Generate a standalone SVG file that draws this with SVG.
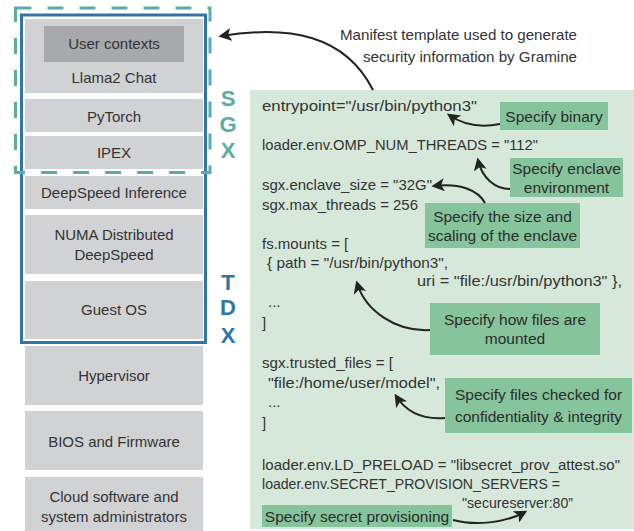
<svg xmlns="http://www.w3.org/2000/svg" width="634" height="531" viewBox="0 0 634 531">
<defs>
<style>
.box{fill:#d1d2d4}
.uc{fill:#a7a9ac}
.lbl{font-family:"Liberation Sans",Arial,sans-serif;font-size:15px;fill:#333;text-anchor:middle}
.code{font-family:"Liberation Sans",Arial,sans-serif;font-size:15px;fill:#333}
.note{fill:#86c49c}
.ntxt{font-family:"Liberation Sans",Arial,sans-serif;font-size:15.5px;fill:#2b2b2b;text-anchor:middle}
.big{font-family:"Liberation Sans",Arial,sans-serif;font-size:22px;font-weight:bold;text-anchor:middle}
.conn{fill:none;stroke:#222;stroke-width:2;marker-end:url(#ah)}
</style>
<marker id="ah" viewBox="0 0 10 10" refX="8" refY="5" markerWidth="6.5" markerHeight="6.5" orient="auto" markerUnits="strokeWidth">
<path d="M0,0 L10,5 L0,10 L2.5,5 Z" fill="#222"/>
</marker>
</defs>
<rect x="0" y="0" width="634" height="531" fill="#ffffff"/>

<g id="stack">
<g id="llama"><rect class="box" x="25" y="19" width="178" height="74"/>
<rect class="uc" x="44" y="26" width="140" height="36"/>
<text class="lbl" x="114" y="49">User contexts</text>
<text class="lbl" x="114" y="83">Llama2 Chat</text></g>
<g id="pytorch"><rect class="box" x="25" y="99" width="178" height="33"/><text class="lbl" x="114" y="122">PyTorch</text></g>
<g id="ipex"><rect class="box" x="25" y="136" width="178" height="33"/><text class="lbl" x="114" y="158">IPEX</text></g>
<g id="dsi"><rect class="box" x="25" y="176" width="178" height="33"/><text class="lbl" x="114" y="198">DeepSpeed Inference</text></g>
<g id="numa"><rect class="box" x="25" y="215" width="178" height="59"/><text class="lbl" x="114" y="240">NUMA Distributed</text><text class="lbl" x="114" y="260">DeepSpeed</text></g>
<g id="guest"><rect class="box" x="25" y="281" width="178" height="58"/><text class="lbl" x="114" y="315">Guest OS</text></g>
<g id="hyper"><rect class="box" x="25" y="346" width="178" height="59"/><text class="lbl" x="114" y="381">Hypervisor</text></g>
<g id="bios"><rect class="box" x="25" y="411" width="178" height="59"/><text class="lbl" x="114" y="447">BIOS and Firmware</text></g>
<g id="cloud"><rect class="box" x="25" y="477" width="178" height="54"/><text class="lbl" x="114" y="502">Cloud software and</text><text class="lbl" x="114" y="522">system administrators</text></g>
</g>

<g id="tdx">
<rect x="21.5" y="15" width="184" height="327.5" fill="none" stroke="#3274a6" stroke-width="3"/>
<text class="big" x="228" y="290" fill="#3274a6">T</text>
<text class="big" x="228" y="315" fill="#3274a6">D</text>
<text class="big" x="228" y="343" fill="#3274a6">X</text>
</g>
<g id="sgx">
<rect x="15.5" y="8" width="194.5" height="164.5" fill="none" stroke="#5aada6" stroke-width="3" stroke-dasharray="16 16"/>
<text class="big" x="228" y="106" fill="#5aada6">S</text>
<text class="big" x="228" y="132" fill="#5aada6">G</text>
<text class="big" x="228" y="158" fill="#5aada6">X</text>
</g>

<g id="caption">
<text class="code" x="577" y="40" text-anchor="end" textLength="237" lengthAdjust="spacingAndGlyphs">Manifest template used to generate</text>
<text class="code" x="577" y="62" text-anchor="end" textLength="214" lengthAdjust="spacingAndGlyphs">security information by Gramine</text>
</g>

<g id="manifest">
<rect x="250" y="90" width="384" height="439" fill="#d5e8d9"/>
<text class="code" x="262" y="111" textLength="215" lengthAdjust="spacingAndGlyphs">entrypoint="/usr/bin/python3"</text>
<text class="code" x="262" y="150" textLength="276" lengthAdjust="spacingAndGlyphs">loader.env.OMP_NUM_THREADS = "112"</text>
<text class="code" x="262" y="190" textLength="170" lengthAdjust="spacingAndGlyphs">sgx.enclave_size = "32G"</text>
<text class="code" x="262" y="210" textLength="156" lengthAdjust="spacingAndGlyphs">sgx.max_threads = 256</text>
<text class="code" x="262" y="249">fs.mounts = [</text>
<text class="code" x="267" y="268" textLength="181" lengthAdjust="spacingAndGlyphs">{ path = "/usr/bin/python3",</text>
<text class="code" x="417" y="286" textLength="205" lengthAdjust="spacingAndGlyphs">uri = "file:/usr/bin/python3" },</text>
<text class="code" x="268" y="307">...</text>
<text class="code" x="262" y="328">]</text>
<text class="code" x="262" y="368" textLength="131" lengthAdjust="spacingAndGlyphs">sgx.trusted_files = [</text>
<text class="code" x="268" y="388" textLength="172" lengthAdjust="spacingAndGlyphs">"file:/home/user/model",</text>
<text class="code" x="268" y="407">...</text>
<text class="code" x="262" y="428">]</text>
<text class="code" x="262" y="470" textLength="358" lengthAdjust="spacingAndGlyphs">loader.env.LD_PRELOAD = "libsecret_prov_attest.so"</text>
<text class="code" x="262" y="489" textLength="298" lengthAdjust="spacingAndGlyphs">loader.env.SECRET_PROVISION_SERVERS =</text>
<text class="code" x="462" y="508" textLength="111" lengthAdjust="spacingAndGlyphs">"secureserver:80”</text>
</g>

<g id="note-binary"><rect class="note" x="500" y="102" width="108" height="28"/><text class="ntxt" x="554" y="122">Specify binary</text></g>
<g id="note-env"><rect class="note" x="510" y="158" width="113" height="39"/><text class="ntxt" x="566.5" y="174">Specify enclave</text><text class="ntxt" x="566.5" y="193">environment</text></g>
<g id="note-size"><rect class="note" x="425" y="203" width="155" height="45"/><text class="ntxt" x="502.5" y="222">Specify the size and</text><text class="ntxt" x="502.5" y="241">scaling of the enclave</text></g>
<g id="note-mount"><rect class="note" x="430" y="303" width="170" height="52"/><text class="ntxt" x="515" y="325">Specify how files are</text><text class="ntxt" x="515" y="344">mounted</text></g>
<g id="note-trusted"><rect class="note" x="445" y="378" width="187" height="55"/><text class="ntxt" x="538.5" y="400">Specify files checked for</text><text class="ntxt" x="538.5" y="422">confidentiality &amp; integrity</text></g>
<g id="note-secret"><rect class="note" x="262" y="505" width="190" height="22"/><text class="ntxt" x="357" y="522">Specify secret provisioning</text></g>

<g id="connectors">
<path class="conn" d="M373,90 C345,35 290,25 221,36"/>
<path class="conn" d="M500,124 C480,128 462,124 449,115"/>
<path class="conn" d="M510,189 C495,189 482,178 478,160"/>
<path class="conn" d="M485,203 C478,190 460,183 434,186"/>
<path class="conn" d="M430,330 C395,332 365,310 357,283"/>
<path class="conn" d="M445,418 C420,420 405,410 396,396"/>
<path class="conn" d="M453,520 C475,526 505,523 525,512"/>
</g>
</svg>
